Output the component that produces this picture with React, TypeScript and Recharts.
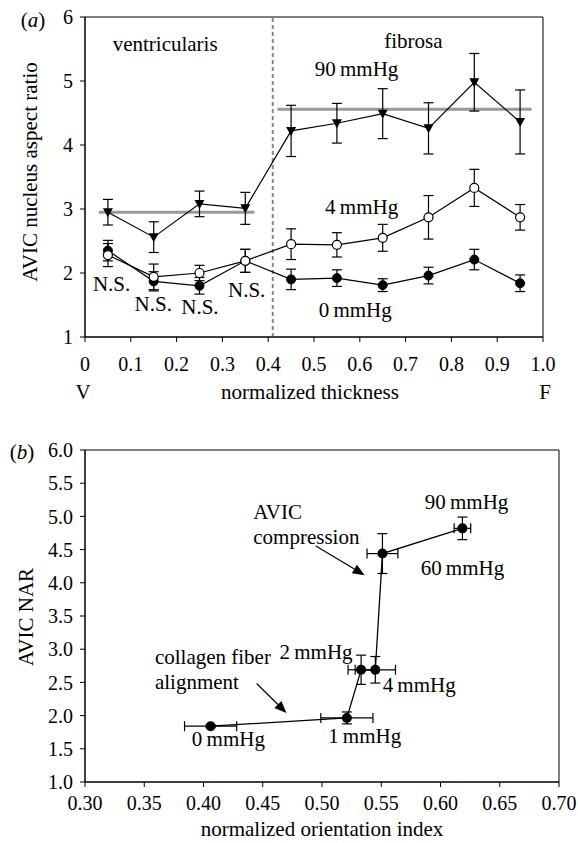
import React from 'react';
import {
  ComposedChart,
  Line,
  Scatter,
  XAxis,
  YAxis,
  ErrorBar,
  ReferenceLine,
  ReferenceArea,
  Label,
} from 'recharts';

// (a) nucleus aspect ratio across the normalized leaflet thickness
const thickness = [0.05, 0.15, 0.25, 0.35, 0.45, 0.55, 0.65, 0.75, 0.85, 0.95];
const nar90 = [2.95, 2.56, 3.08, 3.01, 4.22, 4.34, 4.49, 4.26, 4.98, 4.36];
const err90 = [0.2, 0.24, 0.2, 0.25, 0.4, 0.31, 0.39, 0.4, 0.45, 0.5];
const nar4 = [2.28, 1.94, 2.0, 2.19, 2.45, 2.44, 2.55, 2.87, 3.33, 2.87];
const err4 = [0.18, 0.2, 0.12, 0.18, 0.24, 0.19, 0.21, 0.34, 0.29, 0.2];
const nar0 = [2.35, 1.87, 1.8, 2.19, 1.9, 1.92, 1.81, 1.96, 2.21, 1.84];
const err0 = [0.16, 0.15, 0.13, 0.18, 0.16, 0.13, 0.1, 0.13, 0.16, 0.13];

const ventMean = 2.95;
const ventSpan = [0.03, 0.37];
const fibMean = 4.56;
const fibSpan = [0.42, 0.975];
const layerBoundary = 0.41;

const thicknessTicks = [0, 0.1, 0.2, 0.3, 0.4, 0.5, 0.6, 0.7, 0.8, 0.9, 1.0];
const ratioTicks = [1, 2, 3, 4, 5, 6];

// (b) NAR against orientation index, per transvalvular pressure
const pressures = ['0\u2009mmHg', '1\u2009mmHg', '2\u2009mmHg', '4\u2009mmHg', '60\u2009mmHg', '90\u2009mmHg'];
const orientIdx = [0.406, 0.521, 0.533, 0.545, 0.551, 0.6185];
const orientErr = [0.022, 0.022, 0.011, 0.017, 0.013, 0.007];
const narB = [1.84, 1.965, 2.69, 2.69, 4.44, 4.82];
const narBErr = [0.02, 0.09, 0.22, 0.2, 0.3, 0.17];

const orientTicks = [0.3, 0.35, 0.4, 0.45, 0.5, 0.55, 0.6, 0.65, 0.7];
const narTicks = [1, 1.5, 2, 2.5, 3, 3.5, 4, 4.5, 5, 5.5, 6];

const rowsA = thickness.map((x, i) => ({
  x,
  a90: nar90[i], e90: err90[i],
  a4: nar4[i], e4: err4[i],
  a0: nar0[i], e0: err0[i],
}));

const rowsB = orientIdx.map((x, i) => ({ x, y: narB[i], ex: orientErr[i], ey: narBErr[i] }));

// text placed in data coordinates
const labelsA = [
  { x: 0.175, y: 5.58, text: 'ventricularis' },
  { x: 0.717, y: 5.62, text: 'fibrosa' },
  { x: 0.593, y: 5.19, text: '90\u2009mmHg' },
  { x: 0.604, y: 3.03, text: '4\u2009mmHg' },
  { x: 0.59, y: 1.42, text: '0\u2009mmHg' },
  { x: 0.058, y: 1.83, text: 'N.S.' },
  { x: 0.149, y: 1.52, text: 'N.S.' },
  { x: 0.251, y: 1.47, text: 'N.S.' },
  { x: 0.353, y: 1.73, text: 'N.S.' },
];

const labelPosB = [
  { x: 0.421, y: 1.65 },
  { x: 0.536, y: 1.69 },
  { x: 0.495, y: 2.96 },
  { x: 0.582, y: 2.46 },
  { x: 0.6185, y: 4.22 },
  { x: 0.622, y: 5.21 },
];
const labelsB = [
  ...pressures.map((text, i) => ({ ...labelPosB[i], text })),
  { x: 0.442, y: 5.07, text: 'AVIC', anchor: 'start' },
  { x: 0.442, y: 4.69, text: 'compression', anchor: 'start' },
  { x: 0.359, y: 2.885, text: 'collagen fiber', anchor: 'start' },
  { x: 0.359, y: 2.51, text: 'alignment', anchor: 'start' },
];

const arrowsB = [
  { from: { x: 0.4948, y: 4.555 }, to: { x: 0.536, y: 4.115 } },
  { from: { x: 0.4448, y: 2.483 }, to: { x: 0.47, y: 2.04 } },
];

const FONT = "'Liberation Serif', 'Times New Roman', serif";

const TextMark = (p: any) => (
  <text
    x={p.cx}
    y={p.cy}
    textAnchor={p.payload.anchor ?? 'middle'}
    dominantBaseline="central"
    fontSize={21}
    fill="#000"
    fontFamily={FONT}
  >
    {p.payload.text}
  </text>
);

const TriDown = (p: any) => {
  const { cx, cy } = p;
  if (cx == null || cy == null) return <g key={p.index} />;
  return (
    <path
      key={p.index}
      d={`M${cx - 5},${cy - 4} L${cx + 5},${cy - 4} L${cx},${cy + 5} Z`}
      fill="#000"
    />
  );
};

const Dot = (p: any) => <circle cx={p.cx} cy={p.cy} r={5} fill="#000" />;

const Arrow = (p: any) => {
  const { x1, y1, x2, y2 } = p;
  const ang = Math.atan2(y2 - y1, x2 - x1);
  const L = 12;
  const W = 5;
  const bx = x2 - L * Math.cos(ang);
  const by = y2 - L * Math.sin(ang);
  const s = Math.sin(ang);
  const c = Math.cos(ang);
  const pts = `${x2},${y2} ${bx - W * s},${by + W * c} ${bx + W * s},${by - W * c}`;
  return (
    <g>
      <line x1={x1} y1={y1} x2={bx} y2={by} stroke="#000" strokeWidth={1.2} />
      <polygon points={pts} fill="#000" />
    </g>
  );
};

const tickStyle = { fill: '#000', fontSize: 20, fontFamily: FONT };

export default function App() {
  return (
    <div style={{ position: 'absolute', left: 0, top: 0, width: 578, height: 843, background: '#fff', fontFamily: FONT }}>
      <div style={{ position: 'absolute', left: 0, top: 0 }}>
        <ComposedChart width={578} height={412} data={rowsA} margin={{ top: 17, right: 35, bottom: 15, left: 0 }}>
          <XAxis
            type="number"
            dataKey="x"
            domain={[0, 1]}
            ticks={thicknessTicks}
            tickFormatter={(v: number) => (v === 0 ? '0' : v.toFixed(1))}
            tick={tickStyle}
            tickSize={5}
            tickMargin={15}
            stroke="#000"
            height={60}
          >
            <Label
              content={({ viewBox }: any) => (
                <g fontFamily={FONT} fontSize={21} fill="#000">
                  <text x={viewBox.x - 2} y={viewBox.y + 55} textAnchor="middle" dominantBaseline="central">V</text>
                  <text x={viewBox.x + viewBox.width / 2 - 4} y={viewBox.y + 55} textAnchor="middle" dominantBaseline="central">normalized thickness</text>
                  <text x={viewBox.x + viewBox.width + 2} y={viewBox.y + 55} textAnchor="middle" dominantBaseline="central">F</text>
                </g>
              )}
            />
          </XAxis>
          <YAxis
            type="number"
            domain={[1, 6]}
            ticks={ratioTicks}
            tick={tickStyle}
            tickSize={5}
            tickMargin={7}
            stroke="#000"
            width={85}
          >
            <Label
              content={({ viewBox }: any) => (
                <g fontFamily={FONT} fontSize={21} fill="#000">
                  <text x={33} y={viewBox.y + 3} textAnchor="middle" dominantBaseline="central">
                    (<tspan fontStyle="italic">a</tspan>)
                  </text>
                  <text
                    x={30}
                    y={viewBox.y + viewBox.height / 2 - 5}
                    textAnchor="middle"
                    dominantBaseline="central"
                    transform={`rotate(-90, 30, ${viewBox.y + viewBox.height / 2 - 5})`}
                  >
                    AVIC nucleus aspect ratio
                  </text>
                </g>
              )}
            />
          </YAxis>
          <ReferenceArea x1={0} x2={1} y1={1} y2={6} fill="none" stroke="#000" strokeWidth={1} />
          <ReferenceLine x={layerBoundary} stroke="#888" strokeWidth={2} strokeDasharray="4 3" />
          <ReferenceLine segment={[{ x: ventSpan[0], y: ventMean }, { x: ventSpan[1], y: ventMean }]} stroke="#999" strokeWidth={3} />
          <ReferenceLine segment={[{ x: fibSpan[0], y: fibMean }, { x: fibSpan[1], y: fibMean }]} stroke="#999" strokeWidth={3} />
          <Line dataKey="a0" stroke="#000" strokeWidth={1.2} dot={{ r: 4.5, fill: '#000', stroke: '#000', strokeWidth: 1 }} isAnimationActive={false}>
            <ErrorBar dataKey="e0" direction="y" width={5} stroke="#000" strokeWidth={1.2} />
          </Line>
          <Line dataKey="a4" stroke="#000" strokeWidth={1.2} dot={{ r: 4.5, fill: '#fff', stroke: '#000', strokeWidth: 1.2 }} isAnimationActive={false}>
            <ErrorBar dataKey="e4" direction="y" width={5} stroke="#000" strokeWidth={1.2} />
          </Line>
          <Line dataKey="a90" stroke="#000" strokeWidth={1.2} dot={TriDown} isAnimationActive={false}>
            <ErrorBar dataKey="e90" direction="y" width={5} stroke="#000" strokeWidth={1.2} />
          </Line>
          <Scatter data={labelsA} dataKey="y" shape={TextMark} isAnimationActive={false} />
        </ComposedChart>
      </div>

      <div style={{ position: 'absolute', left: 0, top: 420 }}>
        <ComposedChart width={578} height={423} margin={{ top: 30, right: 19, bottom: 6, left: 0 }}>
          <XAxis
            type="number"
            dataKey="x"
            domain={[0.3, 0.7]}
            ticks={orientTicks}
            tickFormatter={(v: number) => v.toFixed(2)}
            tick={tickStyle}
            tickSize={5}
            tickMargin={9}
            stroke="#000"
            height={55}
          >
            <Label
              content={({ viewBox }: any) => (
                <text
                  x={viewBox.x + viewBox.width / 2}
                  y={viewBox.y + 47}
                  textAnchor="middle"
                  dominantBaseline="central"
                  fontFamily={FONT}
                  fontSize={21}
                  fill="#000"
                >
                  normalized orientation index
                </text>
              )}
            />
          </XAxis>
          <YAxis
            type="number"
            domain={[1, 6]}
            ticks={narTicks}
            tickFormatter={(v: number) => v.toFixed(1)}
            tick={tickStyle}
            tickSize={5}
            tickMargin={7}
            stroke="#000"
            width={85}
          >
            <Label
              content={({ viewBox }: any) => (
                <g fontFamily={FONT} fontSize={21} fill="#000">
                  <text x={22} y={viewBox.y + 2} textAnchor="middle" dominantBaseline="central">
                    (<tspan fontStyle="italic">b</tspan>)
                  </text>
                  <text
                    x={26}
                    y={viewBox.y + viewBox.height / 2 + 1}
                    textAnchor="middle"
                    dominantBaseline="central"
                    transform={`rotate(-90, 26, ${viewBox.y + viewBox.height / 2 + 1})`}
                  >
                    AVIC NAR
                  </text>
                </g>
              )}
            />
          </YAxis>
          <ReferenceArea x1={0.3} x2={0.7} y1={1} y2={6} fill="none" stroke="#000" strokeWidth={1} />
          {arrowsB.map((a, i) => (
            <ReferenceLine key={i} segment={[a.from, a.to]} shape={Arrow} />
          ))}
          <Scatter
            data={rowsB}
            dataKey="y"
            line={{ stroke: '#000', strokeWidth: 1.3 }}
            shape={Dot}
            isAnimationActive={false}
          >
            <ErrorBar dataKey="ex" direction="x" width={5} stroke="#000" strokeWidth={1.2} />
            <ErrorBar dataKey="ey" direction="y" width={5} stroke="#000" strokeWidth={1.2} />
          </Scatter>
          <Scatter data={labelsB} dataKey="y" shape={TextMark} isAnimationActive={false} />
        </ComposedChart>
      </div>
    </div>
  );
}
